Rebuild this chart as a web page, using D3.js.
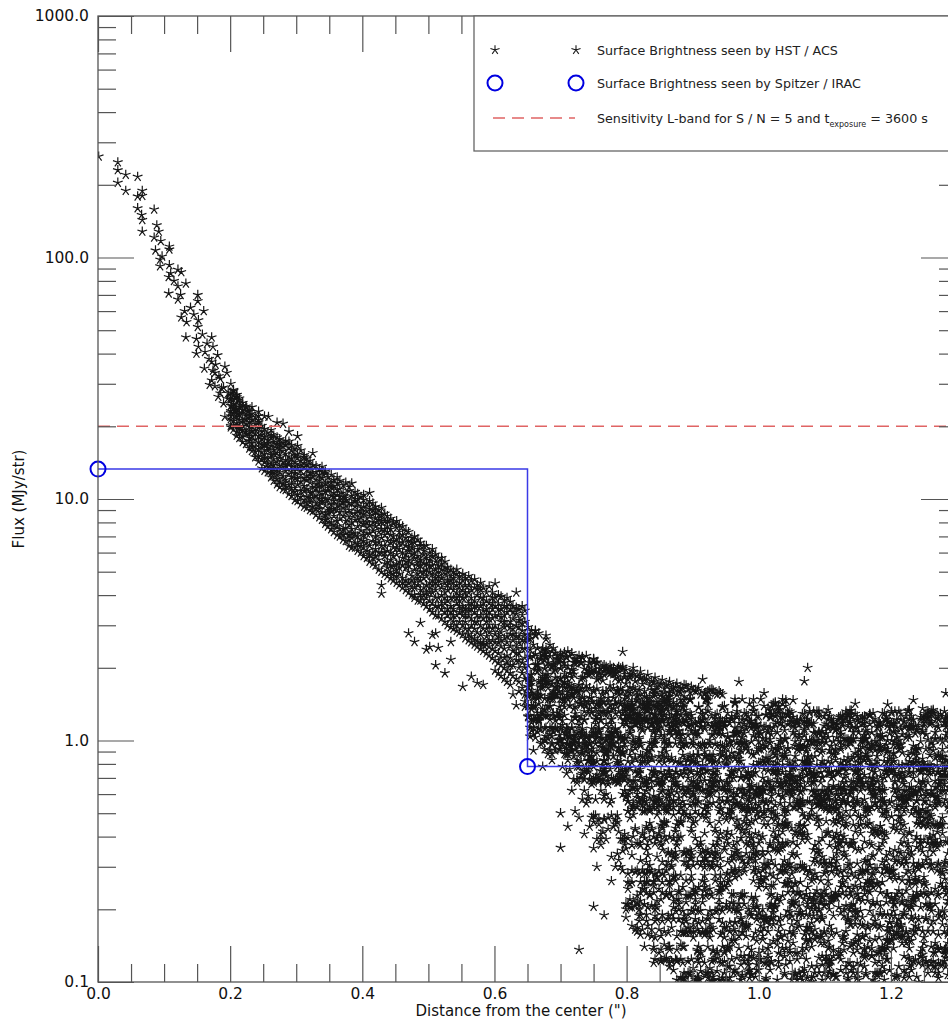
<!DOCTYPE html>
<html>
<head>
<meta charset="utf-8">
<script src="https://cdn.jsdelivr.net/npm/d3@7"></script>
<style>
  body { margin: 0; background: #fff; }
  svg { display: block; font-family: "DejaVu Sans", sans-serif; }
</style>
</head>
<body>
<svg id="chart" width="948" height="1021"></svg>
<script>
// ---- axis definitions ----
const xDomain = [0, 1.3];
const yDomain = [0.1, 1000];
const xMajorTicks = [0, 0.2, 0.4, 0.6, 0.8, 1.0, 1.2];
const xTickLabels = ["0.0", "0.2", "0.4", "0.6", "0.8", "1.0", "1.2"];
const xMinorTicks = [0.05, 0.1, 0.15, 0.25, 0.3, 0.35, 0.45, 0.5, 0.55, 0.65, 0.7, 0.75, 0.85, 0.9, 0.95, 1.05, 1.1, 1.15, 1.25];
const yMajorTicks = [0.1, 1, 10, 100, 1000];
const yTickLabels = ["0.1", "1.0", "10.0", "100.0", "1000.0"];
const yMinorTicks = [0.2, 0.3, 0.4, 0.5, 0.6, 0.7, 0.8, 0.9, 2, 3, 4, 5, 6, 7, 8, 9, 20, 30, 40, 50, 60, 70, 80, 90, 200, 300, 400, 500, 600, 700, 800, 900];

// ---- Spitzer / IRAC surface brightness (distance in ", flux in MJy/str) ----
const spitzerDistance = [0.0, 0.65];
const spitzerFlux = [13.3, 0.78];

// ---- L-band sensitivity, S/N = 5, 3600 s ----
const sensitivityFlux = 20;

// ---- HST / ACS surface brightness: inner pixels as [distance, flux] ----
const hstCore = [
  [0.001,262],[0.030,248],[0.030,230],[0.042,220],[0.060,216],[0.030,204],[0.042,189],[0.067,189],
  [0.060,179],[0.067,180],[0.060,160],[0.085,158],[0.066,150],[0.067,143],[0.067,128],[0.089,136],
  [0.092,128],[0.085,121],[0.095,117],[0.108,111],[0.087,107],[0.108,108],[0.094,98],[0.094,92],
  [0.108,93],[0.121,89],[0.126,87],[0.107,83],[0.107,71],[0.121,76],[0.133,78],[0.125,70],
  [0.121,67],[0.151,70],[0.151,66],[0.131,60],[0.160,60],[0.126,56.5],[0.134,54],[0.152,55],
  [0.151,51.6],[0.133,46.7],[0.149,46],[0.172,46.7],[0.152,42.7],[0.174,42.7],[0.149,40],[0.162,40.6],
  [0.181,39.4],[0.161,34.7],[0.172,37],[0.192,35.3],[0.174,34],[0.172,31],[0.183,32.3],[0.201,30],
  [0.177,29.3],[0.187,28.7],[0.190,24.9],[0.202,24.4],[0.212,25.6],[0.207,23.4],[0.215,24],[0.227,23.1],
  [0.243,23],[0.258,21.9],[0.192,21.9],[0.177,33.3],[0.169,29.7],[0.195,33.3],[0.185,27.4],[0.197,27.4],
  [0.212,22.6],[0.110,86],[0.097,101],[0.115,80],[0.140,62],[0.145,58],[0.158,48],[0.165,44],
  [0.168,38],[0.178,36],[0.185,31.5],[0.190,29],[0.196,26],[0.182,26.5],[0.205,28],[0.210,27]
];

// ---- HST / ACS: main band, [distance, [fluxes]] ----
const hstBand = [
  [0.201,[24.3,20.1,27.6,22.0,19.8,25.9,21.4,23.1,22.7,26.3]],
  [0.205,[26.8,22.7,19.4,24.8,21.0,28.3,20.2,23.8]],
  [0.210,[20.6,25.1,18.3,23.6,26.4,21.9,19.0,22.5,27.0]],
  [0.214,[22.4,18.8,26.1,24.0,20.0,17.9,21.3,19.6]],
  [0.219,[25.0,17.2,21.2,23.3,19.3,22.8,18.1,20.1,24.4]],
  [0.224,[20.5,24.2,16.9,22.1,18.6,23.9,19.0,21.4]],
  [0.229,[17.4,21.7,19.9,23.0,16.2,20.8,18.9,22.3,17.9]],
  [0.233,[22.6,15.8,19.1,21.3,17.0,24.0,18.2,20.0,16.4]],
  [0.238,[16.5,20.4,14.9,18.7,21.8,17.6,19.4,15.7]],
  [0.243,[19.7,15.0,21.2,17.3,14.3,20.8,16.1,18.2,22.1]],
  [0.248,[14.6,18.4,16.8,20.1,13.4,17.7,15.6,19.0,16.3]],
  [0.252,[17.0,13.1,19.5,15.3,22.0,14.2,18.1,14.8,16.7]],
  [0.257,[12.9,16.3,18.8,14.7,17.5,13.6,15.9,17.0,14.0]],
  [0.262,[15.2,19.3,12.3,17.9,14.0,16.6,13.2,12.8,18.4]],
  [0.266,[18.3,13.8,11.9,16.0,14.6,17.2,12.7,15.4,13.3]],
  [0.271,[12.1,15.5,20.7,13.3,16.9,11.5,14.3,18.0,12.6,16.3]],
  [0.275,[16.2,11.8,14.8,17.7,12.9,15.1,11.2,13.7,17.0]],
  [0.280,[13.6,20.5,11.0,15.8,12.4,17.1,14.2,11.6,16.5]],
  [0.284,[16.8,12.0,14.5,10.9,17.4,13.1,15.4,11.4,13.8]],
  [0.289,[11.4,19.0,13.9,16.3,10.5,12.7,15.0,14.3,17.3]],
  [0.293,[15.9,10.3,13.0,14.7,11.7,16.7,12.3,11.1,13.6]],
  [0.298,[12.8,14.2,9.9,16.1,11.1,13.6,10.7,15.2,12.2]],
  [0.302,[18.2,11.5,15.3,9.8,13.4,12.1,14.8,10.4,16.6]],
  [0.307,[10.2,13.9,15.9,11.8,9.5,12.6,14.4,10.8,13.1]],
  [0.312,[14.9,9.3,12.2,10.8,13.6,11.3,15.2,9.9,14.1]],
  [0.316,[11.0,13.2,9.6,14.7,12.5,10.2,13.9,12.0,9.2]],
  [0.321,[13.5,9.0,11.7,14.4,10.6,12.8,9.7,12.2,10.1]],
  [0.325,[10.1,12.4,15.5,9.3,13.8,11.2,8.9,10.7,12.9]],
  [0.330,[12.9,8.6,11.5,13.7,10.3,9.6,12.0,9.1,11.1]],
  [0.335,[9.1,11.9,13.3,10.7,8.4,12.6,10.0,11.4,9.5]],
  [0.339,[11.3,13.6,8.2,9.8,12.2,10.5,8.8,10.0,12.9]],
  [0.344,[10.0,7.9,12.8,9.4,11.6,8.6,13.0,8.2,10.7]],
  [0.348,[12.3,9.0,10.8,7.7,11.1,8.3,9.9,11.7,8.7]],
  [0.353,[8.0,11.7,9.5,12.6,10.3,7.5,8.9,9.1,11.2]],
  [0.357,[10.6,7.3,12.0,9.1,8.5,11.3,9.8,7.8,10.2]],
  [0.362,[7.7,9.4,11.6,8.1,10.4,12.3,7.1,9.0,10.9]],
  [0.366,[11.0,8.8,7.0,9.9,11.9,8.3,10.2,7.5,9.5]],
  [0.371,[9.2,11.4,7.5,10.6,6.8,8.5,9.7,7.1,10.2]],
  [0.375,[6.7,10.1,8.1,11.7,9.4,7.2,8.8,9.9,7.6]],
  [0.380,[10.8,7.8,9.0,6.4,11.2,8.4,7.1,6.8,9.6]],
  [0.384,[8.0,11.6,6.9,9.6,7.5,10.3,6.3,8.7,7.2]],
  [0.389,[9.3,6.6,10.7,8.2,7.2,10.0,8.7,6.3,9.8]],
  [0.393,[7.0,8.9,6.1,10.5,7.7,9.6,6.5,8.3,10.0]],
  [0.398,[10.2,7.4,8.4,6.0,9.2,6.8,8.0,6.4,8.8]],
  [0.402,[6.3,9.9,7.9,8.7,5.8,7.1,10.4,9.3,6.7]],
  [0.407,[8.3,6.6,9.5,5.7,7.6,8.9,6.1,7.2,8.0]],
  [0.411,[10.6,7.2,5.5,8.5,6.4,9.1,7.8,5.9,9.8]],
  [0.416,[6.0,8.0,9.6,5.4,7.4,6.7,8.6,5.7,9.0]],
  [0.420,[8.9,5.3,7.0,9.3,6.2,7.7,5.8,6.6,8.3]],
  [0.425,[7.3,9.0,5.6,8.2,5.1,6.6,7.9,6.0,8.6]],
  [0.429,[5.0,6.9,8.6,6.0,9.2,7.5,4.4,4.06,6.4,8.1]],
  [0.434,[8.1,5.4,7.1,4.9,6.4,8.7,5.8,6.0,7.5]],
  [0.438,[6.7,4.8,7.7,5.2,8.5,6.1,7.3,5.5,8.1]],
  [0.443,[5.6,8.3,4.7,6.6,7.5,5.0,6.0,7.1,5.3]],
  [0.447,[7.9,5.3,6.3,4.6,8.0,5.8,7.0,4.9,6.7]],
  [0.452,[4.5,6.8,7.6,5.1,5.9,8.1,4.8,6.3,5.4]],
  [0.456,[6.2,7.3,4.4,5.5,7.8,4.9,6.6,5.2,7.0]],
  [0.461,[5.3,4.3,7.1,6.0,7.7,4.7,5.7,6.6,4.5]],
  [0.466,[7.4,4.6,5.2,6.4,4.2,5.9,6.9,5.5,4.4]],
  [0.470,[4.1,6.1,7.3,5.0,5.6,4.5,6.7,2.78,5.3,6.3]],
  [0.475,[5.4,6.9,4.3,6.3,4.0,5.9,4.8,4.6,6.6]],
  [0.479,[6.6,4.0,5.1,7.0,4.5,5.7,3.9,2.56,6.0,4.3]],
  [0.484,[4.4,5.8,3.8,6.2,4.9,6.8,5.3,4.7,5.5]],
  [0.488,[6.4,3.8,5.0,5.6,4.2,6.6,4.6,3.07,4.0,5.3]],
  [0.493,[4.0,5.4,6.1,3.7,4.7,5.9,4.3,5.0,6.4]],
  [0.497,[5.7,4.4,3.6,6.4,5.1,3.9,4.8,2.38,4.1,5.4]],
  [0.502,[3.5,5.0,6.0,4.1,5.6,4.5,3.8,2.44,4.3,5.3]],
  [0.506,[4.6,6.2,3.7,5.3,3.4,4.9,5.8,2.74,4.1,4.4]],
  [0.511,[5.5,3.6,4.2,5.9,3.3,4.7,5.1,2.05,2.78,4.5,3.9]],
  [0.515,[3.9,5.0,3.3,5.7,4.4,3.6,4.8,2.42,4.6,5.3]],
  [0.520,[4.7,3.2,5.4,4.0,3.5,5.1,4.3,3.7,5.7]],
  [0.525,[3.4,4.5,5.5,3.1,4.1,4.9,3.7,1.9,3.9,5.2]],
  [0.529,[5.2,3.8,3.0,4.6,3.3,5.0,4.2,3.5,4.4]],
  [0.534,[3.2,4.3,5.1,3.6,2.95,4.8,3.9,2.56,2.16,4.6,3.4]],
  [0.538,[4.5,2.9,3.5,5.0,3.9,3.1,4.2,3.3,4.7]],
  [0.543,[3.7,4.9,2.85,4.1,3.3,5.1,4.4,3.0,3.9]],
  [0.547,[2.8,4.3,3.4,4.8,3.1,3.8,4.0,3.6,4.5]],
  [0.552,[4.6,3.0,3.6,2.75,4.2,3.3,4.9,1.67,3.9,3.45]],
  [0.556,[3.5,2.65,4.4,3.9,3.1,4.7,2.9,3.3,4.1]],
  [0.561,[4.1,2.9,3.3,4.8,2.6,3.7,4.4,3.5,2.75]],
  [0.565,[2.7,3.9,4.6,3.2,2.55,4.2,3.5,1.84,3.0,3.7]],
  [0.570,[3.8,2.5,4.3,2.9,3.4,4.65,3.1,2.65,3.6]],
  [0.574,[3.1,4.4,2.6,3.6,2.45,4.0,2.8,1.73,3.3,4.25]],
  [0.579,[4.5,3.3,2.4,3.9,2.75,3.0,4.2,2.55,3.6]],
  [0.583,[2.55,3.7,4.3,2.35,3.2,2.9,3.9,1.7,2.5,3.45]],
  [0.588,[3.5,2.3,4.1,2.7,3.8,2.5,3.1,2.9,3.3]],
  [0.592,[2.45,3.0,4.35,3.4,2.25,3.7,2.8,2.6,3.2]],
  [0.597,[3.9,2.6,3.2,2.2,4.1,2.9,3.5,2.4,3.7]],
  [0.601,[2.35,4.47,3.6,2.75,3.0,2.15,3.9,1.95,2.55,3.3]],
  [0.606,[3.3,2.1,4.0,2.55,3.7,2.9,2.3,1.9,2.7,3.5]],
  [0.610,[2.45,3.5,2.05,3.95,2.8,3.1,2.2,1.85,2.6,3.25]],
  [0.615,[3.8,2.65,2.0,3.3,2.4,2.95,3.6,1.8,2.2,3.1]],
  [0.619,[2.1,3.0,3.9,2.55,1.95,3.4,2.25,1.75,2.7,3.6]],
  [0.624,[3.5,1.9,2.75,3.75,2.2,3.1,2.45,1.7,2.05,2.95]],
  [0.628,[2.35,3.6,1.85,2.9,3.2,2.05,2.6,1.55,2.75,3.4]],
  [0.633,[4.1,2.7,1.8,3.35,2.15,3.0,2.45,1.4,2.3,3.55]],
  [0.637,[1.75,2.95,3.5,2.3,2.0,3.15,2.55,1.6,2.15,2.7]],
  [0.642,[3.3,1.65,2.6,3.6,2.1,2.85,1.9,2.4,3.05]],
  [0.646,[2.4,3.45,1.55,2.75,1.8,3.1,2.2,1.45,1.38,2.0,2.6]]
];

// ---- HST / ACS: outer halo, [distance, [fluxes]] ----
const hstHalo = [
  [0.651,[1.39,1.81,2.63,1.25,1.66,2.05,1.26,1.52,1.57,1.67,2.95]],
  [0.656,[2.84,1.23,1.57,1.75,1.19,1.1,1.61,1.39,1.87,1.35]],
  [0.662,[1.03,2.05,2.28,2.84,2.72,2.85,1.39,2.75,1.22,1.96]],
  [0.667,[1.21,1.52,1.23,1.42,1.96,1.2,2.78,1.12,1.75,1.22]],
  [0.673,[1.81,2.41,2.26,1.66,1.29,2.38,1.35,1.71,1.85,0.78,0.98]],
  [0.678,[2.23,1.75,2.63,1.87,1.77,2.21,1.7,2.72,1.27,2.38,1.04,1.13]],
  [0.684,[1.52,1.22,1.39,1.13,1.38,2.49,1.49,2.23,0.91,1.06]],
  [0.689,[1.49,1.3,1.55,2.05,2.07,1.61,1.09,1.93,1.26,1.54,2.41]],
  [0.695,[1.71,1.66,1.54,1.77,1.3,2.23,2.18,2.16,1.26,0.97,1.11]],
  [0.700,[1.99,2.15,0.92,1.34,1.8,1.12,1.81,1.49,2.29,1.01,1.0,0.5,0.36]],
  [0.706,[1.65,2.32,1.02,1.74,1.48,1.27,1.38,1.88,2.03,2.1,1.75,0.88]],
  [0.711,[1.72,2.34,0.88,0.96,1.04,0.83,1.54,2.03,1.12,0.97,1.48,0.44]],
  [0.717,[1.67,1.54,0.91,1.12,1.97,1.56,1.82,1.21,1.13,1.57,1.96,0.62,2.3]],
  [0.722,[0.92,1.01,1.24,1.25,1.0,2.17,1.05,1.38,2.1,1.29,0.51,1.6]],
  [0.728,[2.24,0.95,1.09,1.21,1.16,0.97,1.7,1.43,1.58,1.49,0.48,0.136,0.78]],
  [0.733,[1.82,0.88,0.9,1.12,2.22,1.1,2.21,1.07,1.51,0.57,0.73,1.65]],
  [0.739,[1.04,1.03,1.63,0.95,0.96,2.24,1.05,0.91,1.69,0.55,0.76,1.4,1.9]],
  [0.744,[0.86,1.35,1.02,0.98,0.96,1.65,1.88,1.94,0.97,0.44,0.69,1.5,2.1]],
  [0.750,[0.81,2.11,0.78,0.9,1.59,1.62,0.83,1.07,2.18,2.17,2.16,0.69,0.67,0.49,0.46,0.358,0.205]],
  [0.755,[1.26,2.09,0.82,1.41,1.64,0.89,1.05,1.79,1.42,2.11,1.03,0.7,0.72,0.3,0.39]],
  [0.761,[1.41,1.21,1.32,1.22,1.98,1.83,0.75,1.49,0.97,0.94,1.02,0.69,0.62,0.37,0.39,0.41]],
  [0.766,[1.87,0.76,1.3,1.44,2.05,0.83,1.94,0.89,0.82,0.825,0.74,0.57,0.59,0.47,0.474,0.189]],
  [0.772,[1.3,1.94,1.5,1.91,1.32,1.05,0.8,1.12,0.86,0.92,1.44,0.66,0.68,0.43,0.48]],
  [0.777,[1.23,1.02,1.08,0.97,1.07,1.98,1.17,1.91,1.35,1.22,0.7,0.57,0.33,0.49,0.262]],
  [0.783,[1.45,1.89,1.12,1.81,1.08,1.11,1.91,1.41,1.1,1.29,0.68,0.69,0.47,0.45,0.3]],
  [0.788,[1.77,1.32,0.93,1.6,0.94,1.55,0.79,1.44,1.02,0.74,2.02,0.68,0.67,0.42,0.32]],
  [0.794,[2.33,1.98,2.02,0.88,1.17,0.74,0.9,1.0,0.89,1.01,0.6,0.71,0.39,0.35,0.29,1.3,1.6]],
  [0.799,[1.96,1.72,0.58,0.59,1.38,1.02,0.74,1.33,1.19,0.71,0.76,0.21,0.2,0.185,0.357,1.17,1.26,1.53]],
  [0.805,[1.88,1.57,0.87,0.68,1.26,0.62,1.09,1.07,0.77,1.39,1.14,0.255,0.478,0.22,0.204,1.83,1.27,1.66]],
  [0.810,[2.0,1.65,0.96,0.64,0.54,1.22,1.01,0.53,0.68,0.99,0.55,0.493,0.4,0.217,1.35,1.29,1.93]],
  [0.816,[1.85,1.54,0.73,0.63,0.6,0.53,1.19,1.23,0.58,1.2,1.29,0.228,0.168,0.375,0.162,0.29,0.214,1.52,1.22,1.47]],
  [0.821,[1.93,0.55,0.76,0.81,0.97,1.42,0.87,0.95,0.64,0.7,0.319,0.235,0.259,0.19,0.369,0.157,0.217,1.13,1.81,1.24]],
  [0.827,[1.79,1.6,0.56,0.6,0.82,0.51,1.26,0.56,0.67,0.51,1.39,0.394,0.14,0.243,0.259,0.281,0.21,1.22,1.35,1.52]],
  [0.832,[1.87,0.64,1.41,1.33,0.91,1.39,0.52,1.22,1.44,0.81,0.157,0.369,0.335,0.29,0.259,0.171,0.204,1.44,1.13,1.35]],
  [0.838,[1.76,0.98,0.68,0.84,0.93,0.85,0.64,0.75,1.29,1.18,0.165,0.286,0.155,0.426,0.433,0.207,1.62,1.17,1.165]],
  [0.843,[1.82,1.55,1.01,1.27,1.03,1.38,0.73,0.97,0.74,1.29,0.56,0.207,0.2,0.153,0.281,0.375,0.124,0.188,0.179,1.19,1.22,1.62]],
  [0.849,[1.71,0.54,0.67,0.51,0.86,0.58,0.57,1.12,1.1,0.82,0.407,0.29,0.165,0.243,0.413,0.132,1.44,1.36,1.19]],
  [0.854,[1.78,0.85,1.22,0.89,0.55,0.62,1.44,0.68,0.69,0.66,0.19,0.433,0.314,0.235,0.281,0.179,0.352,0.441,0.259,1.2,1.345,1.52]],
  [0.860,[1.69,0.52,0.97,0.51,0.58,0.7,0.9,0.53,0.85,1.23,0.29,0.231,0.124,0.388,0.126,0.304,0.228,0.455,1.43,1.35,1.5]],
  [0.865,[1.75,1.52,0.59,0.56,0.97,1.41,0.72,0.53,1.1,1.08,0.74,0.251,0.259,0.262,0.136,0.235,0.116,0.14,0.4,0.12,1.13,1.57,1.24]],
  [0.871,[1.66,1.12,1.22,1.39,0.67,0.56,1.19,0.7,0.53,0.565,0.394,0.217,0.112,0.204,0.272,0.182,0.493,0.274,0.33,1.44,1.37,1.58]],
  [0.876,[1.72,1.42,1.05,0.74,0.61,1.27,1.14,0.67,0.65,1.33,0.122,0.155,0.448,0.369,0.381,0.102,0.136,0.22,0.123,1.31,1.55,1.21]],
  [0.882,[1.64,1.47,0.72,1.05,0.725,0.99,0.81,0.53,0.93,1.01,0.162,0.4,0.104,0.124,0.455,0.457,0.276,0.463,0.143,1.39,1.27,1.58]],
  [0.887,[1.7,0.84,0.75,0.62,0.54,0.51,0.6,1.47,0.97,1.41,0.182,0.104,0.346,0.109,0.188,0.14,0.314,0.341,0.16,1.52,1.33,1.18]],
  [0.893,[1.63,0.7,1.15,1.14,0.64,1.26,1.05,0.85,0.61,0.83,0.341,0.304,0.19,0.228,0.168,0.1,0.109,0.299,0.122]],
  [0.898,[1.67,1.09,0.82,0.67,0.74,0.97,1.23,1.17,1.27,1.16,0.124,0.197,0.335,0.346,0.419,0.263,0.433,0.325,0.276]],
  [0.904,[1.6,1.09,1.18,1.1,0.58,1.06,0.81,0.55,0.51,0.64,0.22,0.235,0.2,0.102,0.21,0.239,0.463,0.394,0.182]],
  [0.909,[1.65,0.56,0.87,1.19,0.64,1.2,1.06,1.38,0.95,1.37,0.176,0.197,0.102,0.493,0.247,0.12,0.14,0.16,0.104]],
  [0.915,[1.79,0.62,0.97,1.29,0.78,0.73,0.79,1.22,0.96,1.21,0.179,0.16,0.346,0.214,0.314,0.162,0.493,0.263,0.228]],
  [0.920,[1.58,1.3,0.54,0.63,0.58,0.86,1.48,1.49,1.47,0.75,0.16,0.352,0.107,0.493,0.228,0.109,0.478,0.165,0.325]],
  [0.926,[1.62,0.68,0.6,0.55,1.0,0.61,0.96,0.87,0.65,0.82,0.455,0.243,0.173,0.304,0.114,0.162,0.153,0.197,0.231]],
  [0.931,[1.61,0.64,0.55,0.66,0.72,0.81,1.06,0.87,0.74,0.67,0.136,0.165,0.134,0.369,0.314,0.102,0.101,0.105,0.124]],
  [0.937,[1.55,1.18,0.76,1.14,0.68,1.29,0.95,1.13,0.72,0.62,0.381,0.369,0.197,0.111,0.132,0.134,0.341,0.304,0.126]],
  [0.942,[1.57,1.12,0.52,0.96,1.23,0.9,0.86,0.523,0.68,1.14,0.239,0.299,0.325,0.12,0.259,0.247,0.157,0.276,0.413]],
  [0.948,[0.64,0.9,1.18,1.14,1.39,1.15,0.62,0.94,1.19,0.134,0.251,0.352,0.109,0.168,0.132,0.122,0.153,0.362]],
  [0.953,[1.03,0.58,0.5,0.62,0.67,1.3,1.04,0.56,0.63,0.259,0.116,0.14,0.281,0.138,0.136,0.419,0.314,0.375]],
  [0.959,[1.22,1.23,1.26,0.96,0.52,0.89,0.74,0.745,0.51,0.407,0.214,0.124,0.231,0.29,0.148,0.478,0.335,0.319]],
  [0.964,[0.84,0.55,0.75,1.48,1.42,1.43,1.13,1.44,1.07,0.295,0.272,0.346,0.148,0.112,0.29,0.162,0.176,0.177]],
  [0.970,[1.75,0.84,0.96,0.82,1.09,0.76,0.63,1.18,0.89,0.88,0.29,0.197,0.33,0.155,0.21,0.276,0.433,0.448,0.138]],
  [0.975,[0.52,0.53,1.48,0.63,1.22,1.13,0.58,0.96,1.03,0.16,0.107,0.176,0.319,0.426,0.105,0.173,0.161,0.231]],
  [0.981,[0.97,0.96,0.93,0.7,1.12,1.22,0.71,0.715,1.29,0.155,0.455,0.173,0.426,0.341,0.168,0.171,0.375,0.485]],
  [0.986,[1.2,1.14,0.7,1.42,0.66,0.56,0.62,0.51,0.59,0.325,0.381,0.194,0.407,0.448,0.112,0.104,0.128,0.19]],
  [0.992,[1.33,0.58,1.48,0.73,1.32,0.79,1.05,0.87,1.38,0.204,0.341,0.126,0.263,0.29,0.362,0.375,0.153,0.217]],
  [0.997,[0.5,0.6,1.26,1.17,0.79,0.61,0.9,1.13,0.64,0.207,0.204,0.148,0.182,0.118,0.335,0.188,0.112,0.346]],
  [1.003,[0.81,1.48,0.62,1.07,0.92,0.6,0.51,1.15,0.61,0.185,0.263,0.272,0.267,0.171,0.124,0.388,0.255,0.162]],
  [1.008,[1.57,0.5,1.14,0.62,0.81,1.39,0.76,0.67,0.93,0.51,0.478,0.263,0.295,0.182,0.12,0.168,0.1,0.309,0.448]],
  [1.014,[0.68,1.08,1.36,0.67,0.81,0.75,0.84,0.52,1.1,0.162,0.304,0.306,0.346,0.138,0.448,0.118,0.126,0.13]],
  [1.019,[1.38,1.25,1.06,0.62,0.51,0.92,0.59,0.56,1.29,0.251,0.21,0.182,0.319,0.12,0.122,0.231,0.185,0.478]],
  [1.025,[1.26,0.79,0.87,0.93,1.42,0.74,1.44,1.17,0.54,0.394,0.204,0.493,0.304,0.47,0.357,0.21,0.4,0.205]],
  [1.030,[0.91,1.34,0.96,1.3,1.39,0.6,0.74,1.32,1.38,0.162,0.116,0.407,0.448,0.122,0.346,0.179,0.132,0.375]],
  [1.036,[1.24,0.59,0.79,0.86,1.48,0.64,1.42,1.15,0.74,0.58,0.375,0.138,0.377,0.304,0.419,0.228,0.448,0.29,0.362]],
  [1.041,[0.72,0.61,0.66,0.68,1.29,1.39,1.47,0.86,1.01,0.286,0.118,0.255,0.138,0.448,0.441,0.188,0.375,0.455]],
  [1.047,[1.32,1.19,0.72,0.62,0.74,0.66,0.55,0.81,0.7,0.132,0.162,0.122,0.185,0.136,0.309,0.299,0.194,0.267]],
  [1.052,[1.47,0.78,0.77,1.08,0.62,1.25,1.15,1.19,0.71,0.53,0.381,0.157,0.145,0.341,0.21,0.217,0.107,0.16,0.235]],
  [1.058,[0.56,1.2,0.64,0.68,1.18,0.66,0.55,1.22,0.92,0.369,0.235,0.102,0.335,0.295,0.132,0.179,0.124,0.168]],
  [1.063,[0.53,0.56,0.66,0.55,0.61,0.615,1.22,0.96,0.7,0.194,0.304,0.105,0.228,0.259,0.413,0.415,0.229,0.448]],
  [1.069,[1.76,0.82,1.2,1.1,1.12,1.29,1.05,0.76,0.95,0.64,0.407,0.441,0.157,0.22,0.485,0.443,0.114,0.299,0.109]],
  [1.074,[2.0,1.23,0.94,0.86,0.67,0.56,0.85,0.79,0.81,0.8,0.276,0.21,0.168,0.204,0.47,0.388,0.407,0.247,0.104]],
  [1.080,[0.72,0.99,0.85,0.67,0.52,0.62,1.18,0.98,0.71,0.116,0.1,0.14,0.263,0.493,0.104,0.176,0.162,0.2]],
  [1.085,[1.07,0.61,0.86,0.58,1.0,0.585,0.55,0.73,0.7,0.325,0.369,0.2,0.281,0.109,0.21,0.15,0.165,0.231]],
  [1.091,[1.29,0.55,0.98,1.25,1.07,0.545,1.32,1.08,1.085,0.6,0.341,0.381,0.47,0.197,0.201,0.352,0.126,0.109,0.441]],
  [1.096,[1.09,0.82,1.0,0.91,0.98,0.7,0.705,0.54,0.62,0.394,0.118,0.185,0.182,0.224,0.228,0.102,0.128,0.33]],
  [1.102,[1.17,0.52,0.6,0.61,0.98,0.53,1.3,0.77,1.07,0.286,0.231,0.122,0.295,0.128,0.21,0.413,0.463,0.309]],
  [1.107,[0.74,0.52,0.91,0.51,0.57,0.73,0.54,1.26,0.62,0.171,0.2,0.14,0.111,0.369,0.309,0.122,0.118,0.109]],
  [1.113,[0.99,1.18,1.2,0.64,0.88,0.52,0.71,0.65,1.13,0.224,0.128,0.394,0.188,0.107,0.325,0.108,0.136,0.463]],
  [1.118,[1.17,1.16,0.55,0.74,0.52,1.03,0.525,0.6,1.12,0.16,0.319,0.224,0.413,0.299,0.341,0.47,0.281,0.105]],
  [1.124,[1.26,0.92,0.94,0.54,0.6,0.64,1.06,0.81,1.09,0.99,0.247,0.112,0.485,0.375,0.286,0.132,0.407,0.124,0.194]],
  [1.129,[0.57,0.83,1.02,0.62,0.56,0.7,0.96,0.63,0.64,0.29,0.346,0.136,0.2,0.15,0.155,0.4,0.335,0.188]],
  [1.135,[1.27,0.95,0.85,0.55,1.01,0.555,1.14,0.82,1.28,0.304,0.247,0.185,0.104,0.179,0.182,0.102,0.272,0.12]],
  [1.140,[0.62,0.84,1.13,0.67,0.64,1.25,1.01,1.33,0.98,0.173,0.143,0.228,0.281,0.207,0.112,0.369,0.375,0.204]],
  [1.146,[1.42,0.64,0.89,1.29,0.74,0.75,0.63,0.79,1.13,0.51,0.185,0.419,0.173,0.194,0.148,0.357,0.276,0.251,0.2]],
  [1.151,[1.08,0.67,0.75,0.92,0.69,0.81,0.85,0.72,1.19,0.485,0.102,0.267,0.15,0.22,0.143,0.352,0.224,0.441]],
  [1.157,[0.94,1.18,0.66,0.99,0.55,0.67,0.64,1.01,1.25,0.153,0.155,0.357,0.171,0.185,0.286,0.29,0.217,0.13]],
  [1.162,[0.67,1.1,0.88,1.01,0.51,0.53,0.52,1.02,0.86,0.485,0.157,0.448,0.128,0.109,0.29,0.107,0.319,0.255]],
  [1.168,[1.27,0.51,1.17,1.29,0.7,1.28,0.79,0.92,0.62,0.93,0.235,0.148,0.197,0.255,0.304,0.375,0.455,0.305,0.259]],
  [1.173,[0.7,1.2,0.62,0.59,0.69,1.3,0.63,0.6,0.66,0.247,0.173,0.335,0.21,0.188,0.281,0.214,0.433,0.102]],
  [1.179,[0.82,0.78,0.95,0.99,0.86,1.05,0.68,1.13,0.53,0.407,0.109,0.107,0.419,0.255,0.257,0.295,0.132,0.214]],
  [1.184,[0.91,1.03,1.17,0.94,0.945,0.71,0.53,1.06,0.57,0.413,0.207,0.441,0.109,0.194,0.171,0.19,0.235,0.442]],
  [1.190,[0.62,0.5,0.56,0.75,1.29,0.7,0.55,0.82,0.93,0.111,0.413,0.13,0.295,0.19,0.102,0.304,0.388,0.138]],
  [1.195,[1.41,0.92,1.2,0.78,0.72,1.0,1.19,0.9,1.15,0.82,0.138,0.162,0.19,0.148,0.168,0.15,0.29,0.124,0.231]],
  [1.201,[1.18,0.74,0.56,1.17,1.32,0.76,1.0,1.3,0.81,0.188,0.29,0.15,0.168,0.148,0.485,0.224,0.286,0.22]],
  [1.206,[1.32,0.99,0.73,0.68,0.61,1.08,1.17,0.72,0.67,0.267,0.314,0.352,0.188,0.157,0.105,0.22,0.21,0.224]],
  [1.212,[0.58,0.73,0.92,1.32,0.54,0.62,0.79,0.95,1.0,0.485,0.346,0.155,0.239,0.314,0.116,0.272,0.463,0.182]],
  [1.217,[0.79,0.89,0.56,0.59,0.58,1.06,0.74,0.53,0.67,0.231,0.263,0.145,0.153,0.217,0.214,0.157,0.309,0.188]],
  [1.223,[0.62,1.15,0.8,0.56,0.53,1.26,0.565,1.03,0.57,0.109,0.207,0.16,0.309,0.162,0.145,0.281,0.319,0.239]],
  [1.228,[1.34,1.03,1.22,0.59,0.58,1.12,0.64,1.14,0.74,0.82,0.116,0.413,0.419,0.105,0.124,0.263,0.138,0.251,0.148]],
  [1.234,[1.47,1.22,1.15,0.95,0.88,0.61,0.53,0.7,0.74,0.81,0.157,0.122,0.165,0.22,0.286,0.224,0.309,0.214,0.228]],
  [1.239,[0.51,0.91,0.83,0.87,0.56,1.1,1.11,0.565,0.92,0.228,0.455,0.4,0.299,0.224,0.362,0.105,0.3,0.235]],
  [1.245,[0.64,1.22,1.25,0.59,0.63,0.5,0.75,0.74,0.99,0.231,0.357,0.204,0.463,0.128,0.375,0.388,0.134,0.376]],
  [1.250,[1.18,1.15,0.56,1.27,0.67,0.77,1.22,0.78,0.79,0.259,0.153,0.235,0.255,0.478,0.448,0.145,0.388,0.272]],
  [1.256,[1.23,1.01,0.72,1.25,0.67,0.51,1.32,0.79,0.6,0.75,0.228,0.109,0.375,0.116,0.33,0.455,0.207,0.441,0.162]],
  [1.261,[1.18,0.6,0.78,0.99,1.29,0.62,1.33,0.98,1.2,0.173,0.375,0.235,0.197,0.12,0.309,0.295,0.485,0.14]],
  [1.267,[0.85,0.55,1.02,0.58,0.68,0.64,0.53,1.01,1.08,0.448,0.388,0.21,0.116,0.243,0.109,0.375,0.145,0.132]],
  [1.272,[0.66,0.74,0.55,0.57,1.26,1.22,0.56,1.13,0.87,0.157,0.194,0.104,0.309,0.136,0.185,0.231,0.12,0.109]],
  [1.278,[0.92,0.81,0.99,0.69,0.85,0.86,0.7,0.76,0.62,0.281,0.197,0.413,0.118,0.478,0.247,0.286,0.448,0.173]],
  [1.283,[1.57,0.83,0.57,1.26,1.14,1.01,1.23,0.72,1.18,1.05,0.381,0.13,0.231,0.314,0.138,0.136,0.116,0.126,0.247]],
  [1.289,[0.85,0.93,1.07,0.64,0.83,0.52,0.855,0.98,0.525,0.239,0.168,0.29,0.217,0.14,0.171,0.448,0.263,0.319]],
  [1.294,[0.97,0.65,0.79,0.67,0.75,0.655,0.95,1.08,0.53,0.264,0.276,0.128,0.255,0.369,0.33,0.413,0.129,0.138]],
  [1.299,[0.55,0.99,1.23,0.91,0.555,0.6,0.59,0.74,0.8,0.295,0.419,0.15,0.426,0.179,0.1,0.12,0.171,0.109]]
];

// ---- HST / ACS: outer halo, pixels on the intermediate radii ----
const hstHaloMid = [
  [0.654,[2.23,1.75,2.63,1.87,1.77,2.21,1.7,2.72,1.27,2.38,1.04,1.13]],
  [0.659,[1.52,1.22,1.39,1.13,1.38,2.49,1.49,2.23,0.91,1.06]],
  [0.665,[1.49,1.3,1.55,2.05,2.07,1.61,1.09,1.93,1.26,1.54,2.41]],
  [0.670,[1.71,1.66,1.54,1.77,1.3,2.23,2.18,2.16,1.26,0.97,1.11]],
  [0.676,[1.99,2.15,0.92,1.34,1.8,1.12,1.81,1.49,2.29,1.01,1.0]],
  [0.681,[1.65,2.32,1.02,1.74,1.48,1.27,1.38,1.88,2.03,2.1,1.75,0.88]],
  [0.687,[1.72,2.34,0.88,0.96,1.04,0.83,1.54,2.03,1.12,0.97,1.48]],
  [0.692,[1.67,1.54,0.91,1.12,1.97,1.56,1.82,1.21,1.13,1.57,1.96,2.3]],
  [0.698,[0.92,1.01,1.24,1.25,1.0,2.17,1.05,1.38,2.1,1.29,1.6]],
  [0.703,[2.24,0.95,1.09,1.21,1.16,0.97,1.7,1.43,1.58,1.49,0.78]],
  [0.709,[1.82,0.88,0.9,1.12,2.22,1.1,2.21,1.07,1.51,0.73,1.65]],
  [0.714,[1.04,1.03,1.63,0.95,0.96,2.24,1.05,0.91,1.69,0.76,1.4,1.9]],
  [0.720,[0.86,1.35,1.02,0.98,0.96,1.65,1.88,1.94,0.97,0.69,1.5,2.1]],
  [0.725,[0.81,2.11,0.78,0.9,1.59,1.62,0.83,1.07,2.18,2.17,0.69,0.67]],
  [0.731,[1.26,2.09,0.82,1.41,1.64,0.89,1.05,1.79,1.42,2.11,1.03,0.7,0.72]],
  [0.736,[1.41,1.21,1.32,1.22,1.98,1.83,0.75,1.49,0.97,0.94,1.02,0.69,0.62,0.41]],
  [0.742,[1.87,0.76,1.3,1.44,2.05,0.83,1.94,0.89,0.82,0.825,0.74,0.57,0.59]],
  [0.747,[1.3,1.94,1.5,1.91,1.32,1.05,0.8,1.12,0.86,0.92,1.44,0.66,0.68,0.48]],
  [0.753,[1.23,1.02,1.08,0.97,1.07,1.98,1.17,1.91,1.35,1.22,0.7,0.57,0.49]],
  [0.758,[1.45,1.89,1.12,1.81,1.08,1.11,1.91,1.41,1.1,1.29,0.68,0.69,0.47,0.45]],
  [0.764,[1.77,1.32,0.93,1.6,0.94,1.55,0.79,1.44,1.02,0.74,2.02,0.68,0.67,0.42]],
  [0.769,[1.98,2.02,0.88,1.17,0.74,0.9,1.0,0.89,1.01,0.6,0.71,0.39,1.3,1.6]],
  [0.775,[1.04,1.03,1.63,0.95,0.96,2.04,1.05,0.91,1.69,0.55,0.76,1.4,1.9]],
  [0.780,[0.86,1.35,1.02,0.98,0.96,1.65,1.88,1.94,0.97,0.44,0.69,1.5,2.0]],
  [0.786,[0.81,1.91,0.78,0.9,1.59,1.62,0.83,1.07,1.98,0.69,0.67,0.49,0.46,0.34]],
  [0.791,[1.26,1.99,0.82,1.41,1.64,0.89,1.05,1.79,1.42,1.03,0.7,0.72,0.3,0.39]],
  [0.797,[1.41,1.21,1.32,1.22,1.88,1.83,0.75,1.49,0.97,0.94,1.02,0.69,0.62,0.37,0.39,0.41]],
  [0.802,[1.79,1.6,0.56,0.6,0.82,0.51,1.26,0.56,0.67,0.51,1.39,0.394,0.243,0.259,0.281,0.21,1.22,1.35,1.52]],
  [0.808,[1.87,0.64,1.41,1.33,0.91,1.39,0.52,1.22,1.44,0.81,0.369,0.335,0.29,0.259,0.171,0.204,1.44,1.13,1.35]],
  [0.813,[1.76,0.98,0.68,0.84,0.93,0.85,0.64,0.75,1.29,1.18,0.165,0.286,0.426,0.433,0.207,1.62,1.17,1.165]],
  [0.819,[1.82,1.55,1.01,1.27,1.03,1.38,0.73,0.97,0.74,1.29,0.56,0.207,0.2,0.281,0.375,0.188,0.179,1.19,1.22,1.62]],
  [0.824,[1.71,0.54,0.67,0.51,0.86,0.58,0.57,1.12,1.1,0.82,0.407,0.29,0.165,0.243,0.413,1.44,1.36,1.19]],
  [0.830,[1.78,0.85,1.22,0.89,0.55,0.62,1.44,0.68,0.69,0.66,0.19,0.433,0.314,0.235,0.281,0.179,0.352,0.441,0.259,1.2,1.345,1.52]],
  [0.835,[1.69,0.52,0.97,0.51,0.58,0.7,0.9,0.53,0.85,1.23,0.29,0.231,0.388,0.304,0.228,0.455,1.43,1.35,1.5]],
  [0.841,[1.75,1.52,0.59,0.56,0.97,1.41,0.72,0.53,1.1,1.08,0.74,0.251,0.259,0.262,0.136,0.235,0.14,0.4,0.12,1.13,1.57,1.24]],
  [0.846,[1.66,1.12,1.22,1.39,0.67,0.56,1.19,0.7,0.53,0.565,0.394,0.217,0.204,0.272,0.182,0.493,0.274,0.33,1.44,1.37,1.58]],
  [0.852,[1.72,1.42,1.05,0.74,0.61,1.27,1.14,0.67,0.65,1.33,0.122,0.155,0.448,0.369,0.381,0.136,0.22,0.123,1.31,1.55,1.21]],
  [0.857,[1.64,1.47,0.72,1.05,0.725,0.99,0.81,0.53,0.93,1.01,0.162,0.4,0.124,0.455,0.457,0.276,0.463,0.143,1.39,1.27,1.58]],
  [0.863,[1.7,0.84,0.75,0.62,0.54,0.51,0.6,1.47,0.97,1.41,0.182,0.346,0.188,0.14,0.314,0.341,0.16,1.52,1.33,1.18]],
  [0.868,[1.63,0.7,1.15,1.14,0.64,1.26,1.05,0.85,0.61,0.83,0.341,0.304,0.19,0.228,0.168,0.299,0.122]],
  [0.874,[1.67,1.09,0.82,0.67,0.74,0.97,1.23,1.17,1.27,1.16,0.124,0.197,0.335,0.346,0.419,0.263,0.433,0.325,0.276]],
  [0.879,[1.6,1.09,1.18,1.1,0.58,1.06,0.81,0.55,0.51,0.64,0.22,0.235,0.2,0.21,0.239,0.463,0.394,0.182]],
  [0.885,[1.65,0.56,0.87,1.19,0.64,1.2,1.06,1.38,0.95,1.37,0.176,0.197,0.102,0.493,0.247,0.12,0.14,0.16,0.104]],
  [0.890,[1.69,0.62,0.97,1.29,0.78,0.73,0.79,1.22,0.96,1.21,0.179,0.16,0.346,0.214,0.314,0.162,0.493,0.263,0.228]],
  [0.896,[1.58,1.3,0.54,0.63,0.58,0.86,1.48,1.49,1.47,0.75,0.16,0.352,0.107,0.493,0.228,0.109,0.478,0.165,0.325]],
  [0.901,[1.62,0.68,0.6,0.55,1.0,0.61,0.96,0.87,0.65,0.82,0.455,0.243,0.173,0.304,0.114,0.162,0.153,0.197,0.231]],
  [0.907,[1.61,0.64,0.55,0.66,0.72,0.81,1.06,0.87,0.74,0.67,0.136,0.165,0.134,0.369,0.314,0.102,0.101,0.105,0.124]],
  [0.912,[1.55,1.18,0.76,1.14,0.68,1.29,0.95,1.13,0.72,0.62,0.381,0.369,0.197,0.111,0.132,0.134,0.341,0.304,0.126]],
  [0.918,[1.57,1.12,0.52,0.96,1.23,0.9,0.86,0.523,0.68,1.14,0.239,0.299,0.325,0.12,0.259,0.247,0.157,0.276,0.413]],
  [0.923,[1.6,0.84,0.75,0.62,0.54,0.51,0.6,1.47,0.97,1.41,0.182,0.104,0.346,0.109,0.188,0.14,0.314,0.341,0.16,1.52,1.33,1.18]],
  [0.929,[1.63,0.7,1.15,1.14,0.64,1.26,1.05,0.85,0.61,0.83,0.341,0.304,0.19,0.228,0.168,0.1,0.109,0.299,0.122]],
  [0.934,[1.57,1.09,0.82,0.67,0.74,0.97,1.23,1.17,1.27,1.16,0.124,0.197,0.335,0.346,0.419,0.263,0.433,0.325,0.276]],
  [0.940,[1.6,1.09,1.18,1.1,0.58,1.06,0.81,0.55,0.51,0.64,0.22,0.235,0.2,0.102,0.21,0.239,0.463,0.394,0.182]],
  [0.945,[1.55,0.56,0.87,1.19,0.64,1.2,1.06,1.38,0.95,1.37,0.176,0.197,0.102,0.493,0.247,0.12,0.14,0.16,0.104]],
  [0.951,[1.23,0.94,0.86,0.67,0.56,0.85,0.79,0.81,0.8,0.276,0.21,0.168,0.204,0.47,0.388,0.407,0.247,0.104]],
  [0.956,[0.72,0.99,0.85,0.67,0.52,0.62,1.18,0.98,0.71,0.116,0.1,0.14,0.263,0.493,0.104,0.176,0.162,0.2]],
  [0.962,[1.07,0.61,0.86,0.58,1.0,0.585,0.55,0.73,0.7,0.325,0.369,0.2,0.281,0.109,0.21,0.15,0.165,0.231]],
  [0.967,[1.29,0.55,0.98,1.25,1.07,0.545,1.32,1.08,1.085,0.6,0.341,0.381,0.47,0.197,0.201,0.352,0.126,0.109,0.441]],
  [0.973,[1.09,0.82,1.0,0.91,0.98,0.7,0.705,0.54,0.62,0.394,0.118,0.185,0.182,0.224,0.228,0.102,0.128,0.33]],
  [0.978,[1.17,0.52,0.6,0.61,0.98,0.53,1.3,0.77,1.07,0.286,0.231,0.122,0.295,0.128,0.21,0.413,0.463,0.309]],
  [0.984,[0.74,0.52,0.91,0.51,0.57,0.73,0.54,1.26,0.62,0.171,0.2,0.14,0.111,0.369,0.309,0.122,0.118,0.109]],
  [0.989,[0.99,1.18,1.2,0.64,0.88,0.52,0.71,0.65,1.13,0.224,0.128,0.394,0.188,0.107,0.325,0.108,0.136,0.463]],
  [0.995,[1.17,1.16,0.55,0.74,0.52,1.03,0.525,0.6,1.12,0.16,0.319,0.224,0.413,0.299,0.341,0.47,0.281,0.105]],
  [1.000,[1.26,0.92,0.94,0.54,0.6,0.64,1.06,0.81,1.09,0.99,0.247,0.112,0.485,0.375,0.286,0.132,0.407,0.124,0.194]],
  [1.006,[0.57,0.83,1.02,0.62,0.56,0.7,0.96,0.63,0.64,0.29,0.346,0.136,0.2,0.15,0.155,0.4,0.335,0.188]],
  [1.011,[1.27,0.95,0.85,0.55,1.01,0.555,1.14,0.82,1.28,0.304,0.247,0.185,0.104,0.179,0.182,0.102,0.272,0.12]],
  [1.017,[0.62,0.84,1.13,0.67,0.64,1.25,1.01,1.33,0.98,0.173,0.143,0.228,0.281,0.207,0.112,0.369,0.375,0.204]],
  [1.022,[1.42,0.64,0.89,1.29,0.74,0.75,0.63,0.79,1.13,0.51,0.185,0.419,0.173,0.194,0.148,0.357,0.276,0.251,0.2]],
  [1.028,[1.08,0.67,0.75,0.92,0.69,0.81,0.85,0.72,1.19,0.485,0.102,0.267,0.15,0.22,0.143,0.352,0.224,0.441]],
  [1.033,[0.94,1.18,0.66,0.99,0.55,0.67,0.64,1.01,1.25,0.153,0.155,0.357,0.171,0.185,0.286,0.29,0.217,0.13]],
  [1.039,[0.67,1.1,0.88,1.01,0.51,0.53,0.52,1.02,0.86,0.485,0.157,0.448,0.128,0.109,0.29,0.107,0.319,0.255]],
  [1.044,[1.27,0.51,1.17,1.29,0.7,1.28,0.79,0.92,0.62,0.93,0.235,0.148,0.197,0.255,0.304,0.375,0.455,0.305,0.259]],
  [1.050,[0.7,1.2,0.62,0.59,0.69,1.3,0.63,0.6,0.66,0.247,0.173,0.335,0.21,0.188,0.281,0.214,0.433,0.102]],
  [1.055,[0.82,0.78,0.95,0.99,0.86,1.05,0.68,1.13,0.53,0.407,0.109,0.107,0.419,0.255,0.257,0.295,0.132,0.214]],
  [1.061,[0.91,1.03,1.17,0.94,0.945,0.71,0.53,1.06,0.57,0.413,0.207,0.441,0.109,0.194,0.171,0.19,0.235,0.442]],
  [1.066,[0.62,0.5,0.56,0.75,1.29,0.7,0.55,0.82,0.93,0.111,0.413,0.13,0.295,0.19,0.102,0.304,0.388,0.138]],
  [1.072,[1.41,0.92,1.2,0.78,0.72,1.0,1.19,0.9,1.15,0.82,0.138,0.162,0.19,0.148,0.168,0.15,0.29,0.124,0.231]],
  [1.077,[1.18,0.74,0.56,1.17,1.32,0.76,1.0,1.3,0.81,0.188,0.29,0.15,0.168,0.148,0.485,0.224,0.286,0.22]],
  [1.083,[1.32,0.99,0.73,0.68,0.61,1.08,1.17,0.72,0.67,0.267,0.314,0.352,0.188,0.157,0.105,0.22,0.21,0.224]],
  [1.088,[0.58,0.73,0.92,1.32,0.54,0.62,0.79,0.95,1.0,0.485,0.346,0.155,0.239,0.314,0.116,0.272,0.463,0.182]],
  [1.094,[0.79,0.89,0.56,0.59,0.58,1.06,0.74,0.53,0.67,0.231,0.263,0.145,0.153,0.217,0.214,0.157,0.309,0.188]],
  [1.099,[0.62,1.15,0.8,0.56,0.53,1.26,0.565,1.03,0.57,0.109,0.207,0.16,0.309,0.162,0.145,0.281,0.319,0.239]],
  [1.105,[1.34,1.03,1.22,0.59,0.58,1.12,0.64,1.14,0.74,0.82,0.116,0.413,0.419,0.105,0.124,0.263,0.138,0.251,0.148]],
  [1.110,[1.22,1.15,0.95,0.88,0.61,0.53,0.7,0.74,0.81,0.157,0.122,0.165,0.22,0.286,0.224,0.309,0.214,0.228]],
  [1.116,[0.51,0.91,0.83,0.87,0.56,1.1,1.11,0.565,0.92,0.228,0.455,0.4,0.299,0.224,0.362,0.105,0.3,0.235]],
  [1.121,[0.64,1.22,1.25,0.59,0.63,0.5,0.75,0.74,0.99,0.231,0.357,0.204,0.463,0.128,0.375,0.388,0.134,0.376]],
  [1.127,[1.18,1.15,0.56,1.27,0.67,0.77,1.22,0.78,0.79,0.259,0.153,0.235,0.255,0.478,0.448,0.145,0.388,0.272]],
  [1.132,[1.23,1.01,0.72,1.25,0.67,0.51,1.32,0.79,0.6,0.75,0.228,0.109,0.375,0.116,0.33,0.455,0.207,0.441,0.162]],
  [1.138,[1.18,0.6,0.78,0.99,1.29,0.62,1.33,0.98,1.2,0.173,0.375,0.235,0.197,0.12,0.309,0.295,0.485,0.14]],
  [1.143,[0.85,0.55,1.02,0.58,0.68,0.64,0.53,1.01,1.08,0.448,0.388,0.21,0.116,0.243,0.109,0.375,0.145,0.132]],
  [1.149,[0.66,0.74,0.55,0.57,1.26,1.22,0.56,1.13,0.87,0.157,0.194,0.104,0.309,0.136,0.185,0.231,0.12,0.109]],
  [1.154,[0.92,0.81,0.99,0.69,0.85,0.86,0.7,0.76,0.62,0.281,0.197,0.413,0.118,0.478,0.247,0.286,0.448,0.173]],
  [1.160,[0.83,0.57,1.26,1.14,1.01,1.23,0.72,1.18,1.05,0.381,0.13,0.231,0.314,0.138,0.136,0.116,0.126,0.247]],
  [1.165,[0.85,0.93,1.07,0.64,0.83,0.52,0.855,0.98,0.525,0.239,0.168,0.29,0.217,0.14,0.171,0.448,0.263,0.319]],
  [1.171,[0.97,0.65,0.79,0.67,0.75,0.655,0.95,1.08,0.53,0.264,0.276,0.128,0.255,0.369,0.33,0.413,0.129,0.138]],
  [1.176,[0.55,0.99,1.23,0.91,0.555,0.6,0.59,0.74,0.8,0.295,0.419,0.15,0.426,0.179,0.1,0.12,0.171,0.109]],
  [1.182,[0.64,0.9,1.18,1.14,1.15,0.62,0.94,1.19,0.134,0.251,0.352,0.109,0.168,0.132,0.122,0.153,0.362]],
  [1.187,[1.03,0.58,0.5,0.62,0.67,1.3,1.04,0.56,0.63,0.259,0.116,0.14,0.281,0.138,0.136,0.419,0.314,0.375]],
  [1.193,[1.22,1.23,1.26,0.96,0.52,0.89,0.74,0.745,0.51,0.407,0.214,0.124,0.231,0.29,0.148,0.478,0.335,0.319]],
  [1.198,[0.84,0.55,0.75,1.13,1.07,0.295,0.272,0.346,0.148,0.112,0.29,0.162,0.176,0.177]],
  [1.204,[0.84,0.96,0.82,1.09,0.76,0.63,1.18,0.89,0.88,0.29,0.197,0.33,0.155,0.21,0.276,0.433,0.448,0.138]],
  [1.209,[0.52,0.53,0.63,1.22,1.13,0.58,0.96,1.03,0.16,0.107,0.176,0.319,0.426,0.105,0.173,0.161,0.231]],
  [1.215,[0.97,0.96,0.93,0.7,1.12,1.22,0.71,0.715,1.29,0.155,0.455,0.173,0.426,0.341,0.168,0.171,0.375,0.485]],
  [1.220,[1.2,1.14,0.7,0.66,0.56,0.62,0.51,0.59,0.325,0.381,0.194,0.407,0.448,0.112,0.104,0.128,0.19]],
  [1.226,[1.33,0.58,0.73,1.32,0.79,1.05,0.87,0.204,0.341,0.126,0.263,0.29,0.362,0.375,0.153,0.217]],
  [1.231,[0.5,0.6,1.26,1.17,0.79,0.61,0.9,1.13,0.64,0.207,0.204,0.148,0.182,0.118,0.335,0.188,0.112,0.346]],
  [1.237,[0.81,0.62,1.07,0.92,0.6,0.51,1.15,0.61,0.185,0.263,0.272,0.267,0.171,0.124,0.388,0.255,0.162]],
  [1.242,[0.5,1.14,0.62,0.81,0.76,0.67,0.93,0.51,0.478,0.263,0.295,0.182,0.12,0.168,0.1,0.309,0.448]],
  [1.248,[0.68,1.08,1.36,0.67,0.81,0.75,0.84,0.52,1.1,0.162,0.304,0.306,0.346,0.138,0.448,0.118,0.126,0.13]],
  [1.253,[1.25,1.06,0.62,0.51,0.92,0.59,0.56,1.29,0.251,0.21,0.182,0.319,0.12,0.122,0.231,0.185,0.478]],
  [1.259,[1.26,0.79,0.87,0.93,0.74,1.17,0.54,0.394,0.204,0.493,0.304,0.47,0.357,0.21,0.4,0.205]],
  [1.264,[0.91,1.34,0.96,1.3,0.6,0.74,1.32,0.162,0.116,0.407,0.448,0.122,0.346,0.179,0.132,0.375]],
  [1.270,[1.24,0.59,0.79,0.86,0.64,1.15,0.74,0.58,0.375,0.138,0.377,0.304,0.419,0.228,0.448,0.29,0.362]],
  [1.275,[0.72,0.61,0.66,0.68,1.29,0.86,1.01,0.286,0.118,0.255,0.138,0.448,0.441,0.188,0.375,0.455]],
  [1.281,[1.32,1.19,0.72,0.62,0.74,0.66,0.55,0.81,0.7,0.132,0.162,0.122,0.185,0.136,0.309,0.299,0.194,0.267]],
  [1.286,[0.78,0.77,1.08,0.62,1.25,1.15,1.19,0.71,0.53,0.381,0.157,0.145,0.341,0.21,0.217,0.107,0.16,0.235]],
  [1.292,[0.56,1.2,0.64,0.68,1.18,0.66,0.55,1.22,0.92,0.369,0.235,0.102,0.335,0.295,0.132,0.179,0.124,0.168]],
  [1.297,[0.53,0.56,0.66,0.55,0.61,0.615,1.22,0.96,0.7,0.194,0.304,0.105,0.228,0.259,0.413,0.415,0.229,0.448]]
];

// ---- legend text ----
const legendLabels = [
  "Surface Brightness seen by HST / ACS",
  "Surface Brightness seen by Spitzer / IRAC"
];

// ---------------------------------------------------------------
const svg = d3.select("#chart");
const plot = { left: 98, top: 16, right: 957, bottom: 982 };

const x = d3.scaleLinear().domain(xDomain).range([plot.left, plot.right]);
const y = d3.scaleLog().domain(yDomain).range([plot.bottom, plot.top]);

svg.append("rect").attr("width", 948).attr("height", 1021).attr("fill", "#fff");

svg.append("defs").append("clipPath").attr("id", "plot-clip")
  .append("rect")
  .attr("x", plot.left).attr("y", plot.top)
  .attr("width", plot.right - plot.left).attr("height", plot.bottom - plot.top);

// five-armed asterisk used for the HST samples
function asterisk(r) {
  return d3.range(5).map(k => {
    const a = -Math.PI / 2 + k * 2 * Math.PI / 5;
    return `M0,0L${(r * Math.cos(a)).toFixed(2)},${(r * Math.sin(a)).toFixed(2)}`;
  }).join("");
}
const starPath = asterisk(5.1);

const columns = fs => fs.flatMap(([d, list]) => list.map(f => ({ d, f })));
const hstPoints = [
  ...hstCore.map(([d, f]) => ({ d, f })),
  ...columns(hstBand),
  ...columns(hstHalo),
  ...columns(hstHaloMid)
];

const dataLayer = svg.append("g").attr("clip-path", "url(#plot-clip)");

dataLayer.append("g")
  .selectAll("path")
  .data(hstPoints)
  .join("path")
  .attr("d", starPath)
  .attr("transform", p => `translate(${x(p.d).toFixed(2)},${y(p.f).toFixed(2)})`)
  .attr("fill", "none")
  .attr("stroke", "#161616")
  .attr("stroke-width", 1.2);

// sensitivity limit
dataLayer.append("line")
  .attr("x1", x(xDomain[0])).attr("x2", x(xDomain[1]))
  .attr("y1", y(sensitivityFlux)).attr("y2", y(sensitivityFlux))
  .attr("stroke", "#e06464").attr("stroke-width", 1.4)
  .attr("stroke-dasharray", "12,7");

// Spitzer profile drawn as a step line
const spitzer = spitzerDistance.map((d, i) => ({ d, f: spitzerFlux[i] }));
const stepData = [...spitzer, { d: xDomain[1], f: spitzer[spitzer.length - 1].f }];
dataLayer.append("path")
  .datum(stepData)
  .attr("d", d3.line().x(p => x(p.d)).y(p => y(p.f)).curve(d3.curveStepAfter))
  .attr("fill", "none")
  .attr("stroke", "#3a3ae6")
  .attr("stroke-width", 1.5);

svg.append("g")
  .selectAll("circle")
  .data(spitzer)
  .join("circle")
  .attr("cx", p => x(p.d)).attr("cy", p => y(p.f))
  .attr("r", 7.5)
  .attr("fill", "none")
  .attr("stroke", "#0000e0")
  .attr("stroke-width", 2);

// ---- axes ----
const axisColor = "#555";
function styleAxis(g) {
  g.select(".domain").remove();
  g.selectAll(".tick line").attr("stroke", axisColor).attr("stroke-width", 1.2);
  g.selectAll(".tick text")
    .attr("fill", "#111")
    .style("font-family", "'DejaVu Sans', sans-serif")
    .style("font-size", "15.5px");
}

svg.append("g").attr("transform", `translate(0,${plot.bottom})`)
  .call(d3.axisBottom(x).tickValues(xMajorTicks).tickSize(-36).tickPadding(6)
    .tickFormat((d, i) => xTickLabels[i]))
  .call(styleAxis);
svg.append("g").attr("transform", `translate(0,${plot.bottom})`)
  .call(d3.axisBottom(x).tickValues(xMinorTicks).tickSize(-18).tickFormat(""))
  .call(styleAxis);
svg.append("g").attr("transform", `translate(0,${plot.top})`)
  .call(d3.axisTop(x).tickValues(xMajorTicks).tickSize(-36).tickFormat(""))
  .call(styleAxis);
svg.append("g").attr("transform", `translate(0,${plot.top})`)
  .call(d3.axisTop(x).tickValues(xMinorTicks).tickSize(-18).tickFormat(""))
  .call(styleAxis);

svg.append("g").attr("transform", `translate(${plot.left},0)`)
  .call(d3.axisLeft(y).tickValues(yMajorTicks).tickSize(-36).tickPadding(9)
    .tickFormat((d, i) => yTickLabels[i]))
  .call(styleAxis);
svg.append("g").attr("transform", `translate(${plot.left},0)`)
  .call(d3.axisLeft(y).tickValues(yMinorTicks).tickSize(-18).tickFormat(""))
  .call(styleAxis);
svg.append("g").attr("transform", `translate(${plot.right},0)`)
  .call(d3.axisRight(y).tickValues(yMajorTicks).tickSize(-36).tickFormat(""))
  .call(styleAxis);
svg.append("g").attr("transform", `translate(${plot.right},0)`)
  .call(d3.axisRight(y).tickValues(yMinorTicks).tickSize(-18).tickFormat(""))
  .call(styleAxis);

// frame
svg.append("rect")
  .attr("x", plot.left).attr("y", plot.top)
  .attr("width", plot.right - plot.left).attr("height", plot.bottom - plot.top)
  .attr("fill", "none").attr("stroke", axisColor).attr("stroke-width", 1.3);

// axis titles
svg.append("text")
  .attr("x", 521).attr("y", 1016)
  .attr("text-anchor", "middle")
  .attr("fill", "#111")
  .style("font-size", "15px")
  .text("Distance from the center (\")");

svg.append("text")
  .attr("transform", "translate(24,499) rotate(-90)")
  .attr("text-anchor", "middle")
  .attr("fill", "#111")
  .style("font-size", "15px")
  .text("Flux (MJy/str)");

// ---- legend ----
const legend = svg.append("g");
legend.append("rect")
  .attr("x", 474).attr("y", plot.top)
  .attr("width", 520).attr("height", 135)
  .attr("fill", "#fff").attr("stroke", "#666").attr("stroke-width", 1.3);

const legendText = { x: 597, size: "12.7px" };
const rowY = [50, 83, 118];
const legendStar = asterisk(4.8);

[495, 576].forEach(cx => {
  legend.append("path").attr("d", legendStar)
    .attr("transform", `translate(${cx},${rowY[0]})`)
    .attr("fill", "none").attr("stroke", "#1a1a1a").attr("stroke-width", 1.1);
  legend.append("circle")
    .attr("cx", cx).attr("cy", rowY[1]).attr("r", 7.5)
    .attr("fill", "none").attr("stroke", "#0000e0").attr("stroke-width", 2);
});
legend.append("line")
  .attr("x1", 493).attr("x2", 575).attr("y1", rowY[2]).attr("y2", rowY[2])
  .attr("stroke", "#e06464").attr("stroke-width", 1.4).attr("stroke-dasharray", "12,7");

legendLabels.forEach((t, i) => {
  legend.append("text")
    .attr("x", legendText.x).attr("y", rowY[i] + 5)
    .attr("fill", "#222").style("font-size", legendText.size)
    .text(t);
});
const sens = legend.append("text")
  .attr("x", legendText.x).attr("y", rowY[2] + 5)
  .attr("fill", "#222").style("font-size", legendText.size);
sens.append("tspan").text("Sensitivity L-band for S / N = 5 and t");
sens.append("tspan").attr("dy", 3.5).style("font-size", "8px").text("exposure");
sens.append("tspan").attr("dy", -3.5).text(" = 3600 s");
</script>
</body>
</html>
